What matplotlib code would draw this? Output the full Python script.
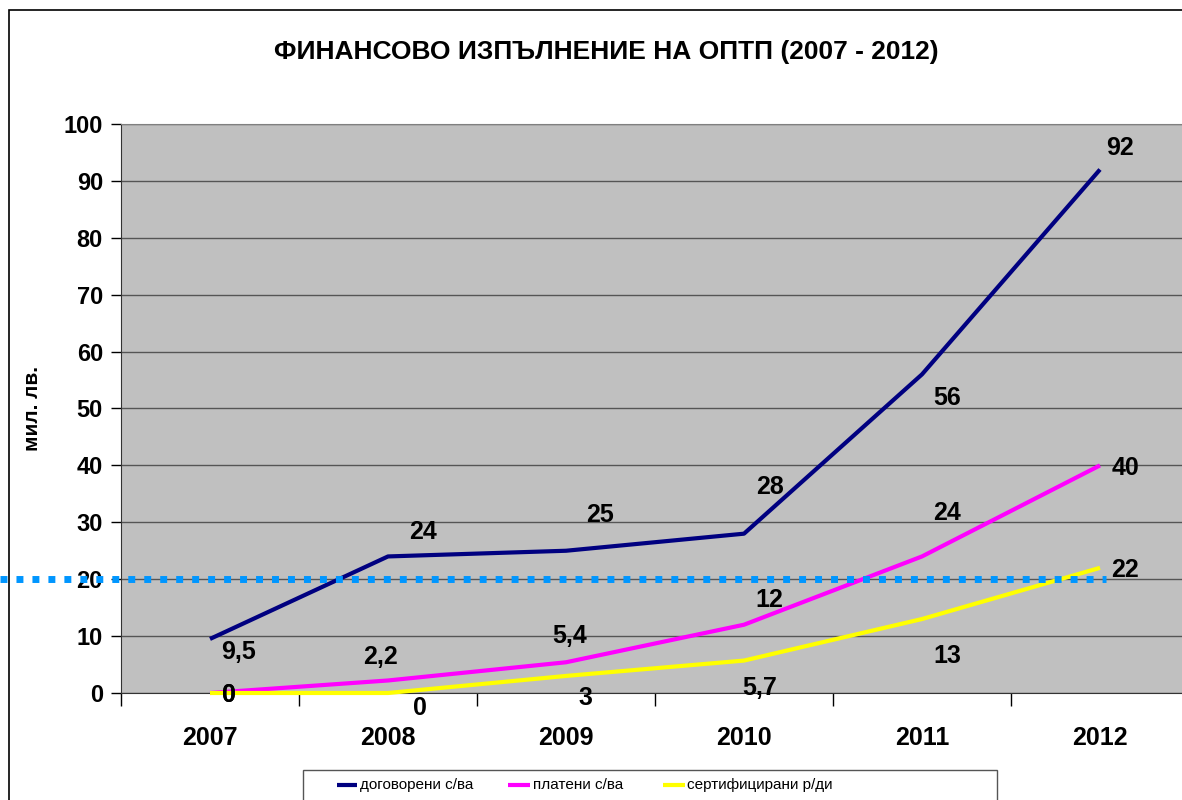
import matplotlib
matplotlib.use("Agg")
import matplotlib.pyplot as plt
from matplotlib.lines import Line2D
from matplotlib.patches import Rectangle

plt.rcParams['font.family'] = ['Liberation Sans', 'DejaVu Sans']

years = ["2007", "2008", "2009", "2010", "2011", "2012"]
contracted = [9.5, 24, 25, 28, 56, 92]
paid = [0, 2.2, 5.4, 12, 24, 40]
certified = [0, 0, 3, 5.7, 13, 22]
labels_contracted = ["9,5", "24", "25", "28", "56", "92"]
labels_paid = ["0", "2,2", "5,4", "12", "24", "40"]
labels_certified = ["0", "0", "3", "5,7", "13", "22"]
series_names = ["договорени с/ва", "платени с/ва", "сертифицирани р/ди"]
threshold = 20

W, H = 1182, 800
fig = plt.figure(figsize=(W/100, H/100), dpi=100)

# outer border
fig.patches.append(Rectangle((9/W, -0.1), 1.2, (H-10)/H + 0.1, transform=fig.transFigure,
                             fill=False, edgecolor='black', linewidth=1.2))

left, right, top, bottom = 121, 1189, 124, 693
ax = fig.add_axes([left/W, (H-bottom)/H, (right-left)/W, (bottom-top)/H])
ax.set_facecolor('#C0C0C0')
x = list(range(len(years)))
ax.set_xlim(-0.5, len(years)-0.5)
ax.set_ylim(0, 100)
ax.set_yticks(range(0, 101, 10))
ax.yaxis.grid(True, color='#555555', linewidth=1.0)
ax.set_axisbelow(True)
ax.set_xticks([i + 0.5 for i in range(-1, len(years))], minor=False)
ax.set_xticklabels([])
ax.set_xticks(x, minor=True)
ax.set_xticklabels(years, minor=True, fontsize=18, fontweight='bold')
ax.tick_params(axis='x', which='minor', length=0, pad=24)
ax.tick_params(axis='x', which='major', length=9, width=1, direction='out', color='black')
ax.tick_params(axis='y', length=7, width=1, direction='out', labelsize=17, pad=6)
for lab in ax.get_yticklabels():
    lab.set_fontweight('bold')
for s in ['top', 'right']:
    ax.spines[s].set_color('#808080')
for s in ['left', 'bottom']:
    ax.spines[s].set_color('#333333')

ax.set_ylabel("мил. лв.", fontsize=15, fontweight='bold')
ax.yaxis.set_label_coords((42 - left) / (right - left), 0.5)

colors = ['#000080', '#FF00FF', '#FFFF00']
data = [contracted, paid, certified]
for vals, c in zip(data, colors):
    ax.plot(x, vals, color=c, linewidth=3.0, solid_capstyle='butt', zorder=3, clip_on=False)

# threshold dotted line
xpx0, xpx1 = 0, 1106
to_data = lambda px: (px - left) / 178.0 - 0.5
ax.plot([to_data(xpx0), to_data(xpx1)], [threshold, threshold], color='#0096FF',
        linewidth=5, linestyle=(0, (1.0, 1.3)), solid_capstyle='butt', dash_capstyle='butt',
        clip_on=False, zorder=4)

off_c = [(28, -13), (35, 24), (34, 36), (26, 47), (25, -24), (20, 22)]
off_p = [(19, -2), (-8, 23), (4, 26), (25, 25), (25, 43), (25, -3)]
off_s = [(19, -2), (32, -15), (19, -22), (16, -27), (25, -37), (25, -2)]
for vals, labs, offs in [(contracted, labels_contracted, off_c),
                         (paid, labels_paid, off_p),
                         (certified, labels_certified, off_s)]:
    for i, (v, t, o) in enumerate(zip(vals, labs, offs)):
        ax.annotate(t, (i, v), xytext=o, textcoords='offset pixels', ha='center', va='center',
                    fontsize=18, fontweight='bold', zorder=5, annotation_clip=False)

fig.text(606/W, 1 - 52/H, "ФИНАНСОВО ИЗПЪЛНЕНИЕ НА ОПТП (2007 - 2012)", ha='center', va='center',
         fontsize=19, fontweight='bold')

# legend drawn manually
fig.patches.append(Rectangle((303/W, -0.05), (997-303)/W, (1 - 770/H) + 0.05,
                             transform=fig.transFigure, fill=True, facecolor='white',
                             edgecolor='#555555', linewidth=1.0))
leg_line_x = [(337, 357), (508, 530), (663, 685)]
leg_text_x = [360, 533, 687]
leg_y = 1 - 785/H
for (x0, x1), tx, c, name in zip(leg_line_x, leg_text_x, colors, series_names):
    fig.lines.append(Line2D([x0/W, x1/W], [leg_y, leg_y], transform=fig.transFigure,
                            color=c, linewidth=3.0, solid_capstyle='butt'))
    fig.text(tx/W, leg_y, name, ha='left', va='center', fontsize=11)

fig.savefig("out.png", dpi=100)
